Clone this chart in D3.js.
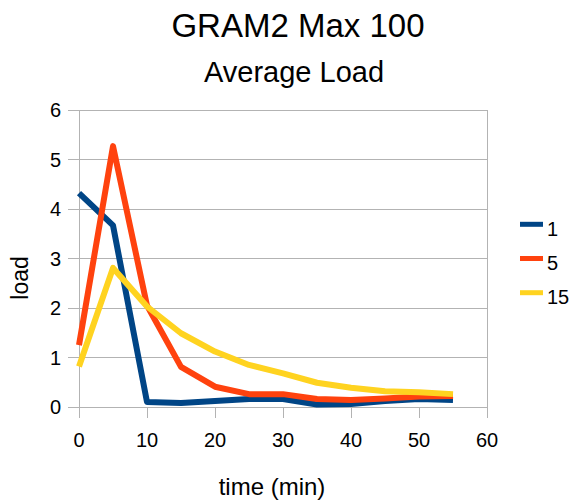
<!DOCTYPE html>
<html><head><meta charset="utf-8">
<script src="https://cdn.jsdelivr.net/npm/d3@7"></script>
<style>
html,body{margin:0;padding:0;background:#fff;}
svg{display:block;font-family:"Liberation Sans",Arial,sans-serif;}
</style></head>
<body>
<svg id="chart" width="575" height="503"></svg>
<script>
const times = [0,5,10,15,20,25,30,35,40,45,50,55];
const seriesNames = ["1","5","15"];
const load1  = [4.32,3.67,0.10,0.08,0.12,0.16,0.16,0.05,0.06,0.12,0.16,0.14];
const load5  = [1.25,5.27,2.05,0.81,0.41,0.26,0.26,0.16,0.14,0.17,0.21,0.22];
const load15 = [0.82,2.81,2.03,1.49,1.12,0.85,0.68,0.49,0.39,0.32,0.30,0.26];
const xTicks = [0,10,20,30,40,50,60];
const yTicks = [0,1,2,3,4,5,6];
const colors = ["#004586","#ff420e","#ffd320"];
const title = "GRAM2 Max 100";
const subtitle = "Average Load";
const xTitle = "time (min)";
const yTitle = "load";

const svg = d3.select("#chart");
const x = d3.scaleLinear().domain([0,60]).range([79,487]);
const y = d3.scaleLinear().domain([0,6]).range([407,110]);
const grid = "#b3b3b3";

// horizontal gridlines + y ticks
svg.append("g").selectAll("line").data(yTicks).join("line")
  .attr("x1",68).attr("x2",x(60))
  .attr("y1",d=>y(d)).attr("y2",d=>y(d))
  .attr("stroke",grid).attr("stroke-width",1).attr("shape-rendering","crispEdges");
// x tick marks
svg.append("g").selectAll("line").data(xTicks).join("line")
  .attr("x1",d=>x(d)).attr("x2",d=>x(d))
  .attr("y1",y(0)).attr("y2",418)
  .attr("stroke",grid).attr("stroke-width",1).attr("shape-rendering","crispEdges");
// left axis and right border
[0,60].forEach(v=>{
  svg.append("line").attr("x1",x(v)).attr("x2",x(v)).attr("y1",y(6)).attr("y2",418)
    .attr("stroke",grid).attr("stroke-width",1).attr("shape-rendering","crispEdges");
});

// tick labels
svg.append("g").selectAll("text").data(yTicks).join("text")
  .attr("x",61).attr("y",d=>y(d)).attr("dy","0.36em")
  .attr("text-anchor","end").attr("font-size",20).attr("fill","#000")
  .text(d=>d);
svg.append("g").selectAll("text").data(xTicks).join("text")
  .attr("x",d=>x(d)).attr("y",447)
  .attr("text-anchor","middle").attr("font-size",20).attr("fill","#000")
  .text(d=>d);

// lines
const data = [load1,load5,load15];
const line = d3.line().x((d,i)=>x(times[i])).y(d=>y(d));
svg.append("g").selectAll("path").data(data).join("path")
  .attr("d",line).attr("fill","none")
  .attr("stroke",(d,i)=>colors[i]).attr("stroke-width",6)
  .attr("stroke-linejoin","round").attr("stroke-linecap","butt");

// titles
svg.append("text").attr("x",298).attr("y",37).attr("text-anchor","middle")
  .attr("font-size",33).text(title);
svg.append("text").attr("x",294).attr("y",82).attr("text-anchor","middle")
  .attr("font-size",29).text(subtitle);
svg.append("text").attr("x",272).attr("y",495).attr("text-anchor","middle")
  .attr("font-size",24).text(xTitle);
svg.append("text").attr("transform","translate(28,278) rotate(-90)").attr("text-anchor","middle")
  .attr("font-size",23).text(yTitle);

// legend
const lg = svg.append("g").selectAll("g").data(seriesNames).join("g")
  .attr("transform",(d,i)=>`translate(0,${224.3+i*34.2})`);
lg.append("line").attr("x1",520).attr("x2",543).attr("y1",0).attr("y2",0)
  .attr("stroke",(d,i)=>colors[i]).attr("stroke-width",5);
lg.append("text").attr("x",547).attr("y",11.7).attr("font-size",20).text(d=>d);
</script>
</body></html>
